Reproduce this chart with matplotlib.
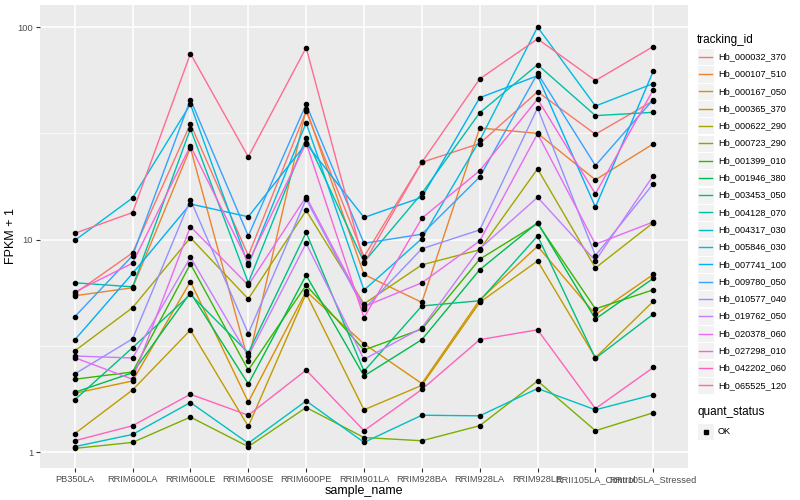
import numpy as np
import matplotlib
matplotlib.use("Agg")
import matplotlib.pyplot as plt
from matplotlib.patches import Rectangle
from matplotlib.lines import Line2D

plt.rcParams["font.family"] = ["Liberation Sans", "DejaVu Sans"]

samples = ["PB350LA", "RRIM600LA", "RRIM600LE", "RRIM600SE", "RRIM600PE",
           "RRIM901LA", "RRIM928BA", "RRIM928LA", "RRIM928LE",
           "RRII105LA_Control", "RRII105LA_Stressed"]

tracking_ids = ["Hb_000032_370", "Hb_000107_510", "Hb_000167_050", "Hb_000365_370",
                "Hb_000622_290", "Hb_000723_290", "Hb_001399_010", "Hb_001946_380",
                "Hb_003453_050", "Hb_004128_070", "Hb_004317_030", "Hb_005846_030",
                "Hb_007741_100", "Hb_009780_050", "Hb_010577_040", "Hb_019762_050",
                "Hb_020378_060", "Hb_027298_010", "Hb_042202_060", "Hb_065525_120"]

# ggplot hue palette, 20 levels
colors = ["#F8766D", "#EA8331", "#D89000", "#C09B00", "#A3A500", "#7CAE00",
          "#39B600", "#00BB4E", "#00BF7D", "#00C1A3", "#00BFC4", "#00BAE0",
          "#00B0F6", "#35A2FF", "#9590FF", "#C77CFF", "#E76BF3", "#FA62DB",
          "#FF62BC", "#FF6C91"]

# FPKM + 1 per tracking_id, one value per sample
Hb_000032_370 = [5.57, 8.66, 35.0, 8.4, 40.2, 8.3, 23.1, 28.3, 49.6, 31.3, 45.0]
Hb_000107_510 = [5.44, 5.93, 27.0, 2.68, 41.2, 6.85, 5.06, 33.5, 31.6, 19.1, 28.2]
Hb_000167_050 = [1.89, 2.16, 6.34, 1.72, 5.7, 3.23, 2.1, 5.2, 9.3, 4.44, 6.85]
Hb_000365_370 = [1.22, 1.96, 3.75, 1.32, 5.57, 1.58, 2.06, 5.06, 7.93, 2.78, 5.12]
Hb_000622_290 = [2.99, 4.78, 10.2, 5.25, 13.7, 4.98, 7.6, 8.95, 21.5, 7.35, 12.0]
Hb_000723_290 = [1.04, 1.11, 1.46, 1.06, 1.62, 1.17, 1.13, 1.33, 2.16, 1.26, 1.53]
Hb_001399_010 = [2.2, 2.38, 7.68, 2.43, 6.1, 3.02, 3.79, 8.08, 11.9, 4.72, 5.8]
Hb_001946_380 = [1.91, 2.36, 5.62, 2.09, 6.79, 2.28, 3.38, 7.21, 12.0, 4.23, 6.56]
Hb_003453_050 = [1.76, 3.1, 5.52, 2.93, 10.8, 2.4, 4.87, 5.15, 10.4, 2.76, 4.46]
Hb_004128_070 = [6.26, 5.99, 33.2, 6.26, 30.0, 7.83, 16.5, 39.5, 66.5, 38.3, 39.7]
Hb_004317_030 = [1.06, 1.21, 1.71, 1.1, 1.74, 1.11, 1.49, 1.48, 1.99, 1.58, 1.86]
Hb_005846_030 = [9.9, 15.7, 43.3, 7.6, 35.4, 5.78, 10.1, 29.3, 100.0, 42.5, 54.2]
Hb_007741_100 = [3.37, 6.93, 14.7, 12.8, 28.3, 12.7, 15.8, 46.5, 59.0, 14.2, 62.0]
Hb_009780_050 = [4.33, 8.4, 45.6, 10.4, 43.3, 9.6, 10.6, 19.7, 60.5, 22.3, 45.6]
Hb_010577_040 = [2.33, 3.41, 15.4, 3.61, 15.5, 4.7, 9.05, 11.1, 41.6, 8.4, 18.3]
Hb_019762_050 = [2.83, 2.77, 8.25, 2.83, 9.6, 2.73, 3.84, 9.05, 15.8, 7.95, 20.0]
Hb_020378_060 = [2.78, 2.2, 11.5, 6.1, 15.9, 4.83, 6.26, 9.85, 31.5, 9.5, 12.1]
Hb_027298_010 = [5.66, 7.74, 27.6, 7.79, 28.5, 4.29, 12.6, 21.1, 45.8, 16.4, 50.7]
Hb_042202_060 = [1.13, 1.33, 1.87, 1.49, 2.43, 1.26, 1.97, 3.38, 3.76, 1.6, 2.5]
Hb_065525_120 = [10.7, 13.4, 75.0, 24.5, 80.0, 7.74, 23.1, 57.0, 88.0, 56.0, 81.0]

series = [Hb_000032_370, Hb_000107_510, Hb_000167_050, Hb_000365_370,
          Hb_000622_290, Hb_000723_290, Hb_001399_010, Hb_001946_380,
          Hb_003453_050, Hb_004128_070, Hb_004317_030, Hb_005846_030,
          Hb_007741_100, Hb_009780_050, Hb_010577_040, Hb_019762_050,
          Hb_020378_060, Hb_027298_010, Hb_042202_060, Hb_065525_120]

W, H = 800, 500
fig = plt.figure(figsize=(8, 5), dpi=100)
ax = fig.add_axes([0.05, 0.064, 0.81, 0.926])
ax.set_facecolor("#EBEBEB")

x = np.arange(len(samples))
for vals, col in zip(series, colors):
    ax.plot(x, vals, color=col, lw=1.0, zorder=2)
for vals in series:
    ax.plot(x, vals, "o", color="black", ms=3.0, zorder=3, lw=0)

ax.set_yscale("log")
ax.set_ylim(0.841, 127)
ax.set_xlim(-0.6, len(samples) - 0.4)
ax.set_yticks([1, 10, 100])
ax.set_yticklabels(["1", "10", "100"])
ax.set_yticks([10 ** 0.5, 10 ** 1.5], minor=True)
ax.yaxis.set_minor_formatter(plt.NullFormatter())
ax.set_xticks(x)
ax.set_xticklabels(samples)

ax.grid(which="major", color="white", lw=1.1)
ax.grid(which="minor", axis="y", color="white", lw=0.5)
ax.set_axisbelow(True)
for s in ax.spines.values():
    s.set_visible(False)
ax.tick_params(which="major", length=3, color="#333333", labelsize=6.7,
               labelcolor="#4D4D4D", pad=2)
ax.tick_params(which="minor", length=0)

ax.set_xlabel("sample_name", fontsize=9, labelpad=1)
ax.set_ylabel("FPKM + 1", fontsize=9, labelpad=0)


# ggplot-style legends drawn by hand (figure pixel coordinates, from top)
def key_box(px, py, size=17):
    r = Rectangle(((px) / W, 1 - (py + size / 2) / H), size / W, size / H,
                  transform=fig.transFigure, facecolor="#F2F2F2",
                  edgecolor="white", lw=0.8)
    fig.add_artist(r)


lx, step = 697, 17.3
fig.text(lx / W, 1 - 40.5 / H, "tracking_id", fontsize=8.5, va="center", ha="left")
for i, (name, col) in enumerate(zip(tracking_ids, colors)):
    cy = 56.7 + i * step
    key_box(lx, cy)
    fig.add_artist(Line2D([(lx + 2) / W, (lx + 15) / W], [1 - cy / H, 1 - cy / H],
                          transform=fig.transFigure, color=col, lw=1.0))
    fig.text((lx + 21) / W, 1 - cy / H, name, fontsize=6.6, va="center", ha="left")

fig.text(lx / W, 1 - 412 / H, "quant_status", fontsize=8.5, va="center", ha="left")
cy = 431.5
key_box(lx, cy)
fig.add_artist(Line2D([(lx + 8.5) / W], [1 - cy / H], transform=fig.transFigure,
                      marker="s", ms=2.5, color="black", lw=0))
fig.text((lx + 21) / W, 1 - cy / H, "OK", fontsize=6.6, va="center", ha="left")

fig.savefig("out.png", dpi=100)
